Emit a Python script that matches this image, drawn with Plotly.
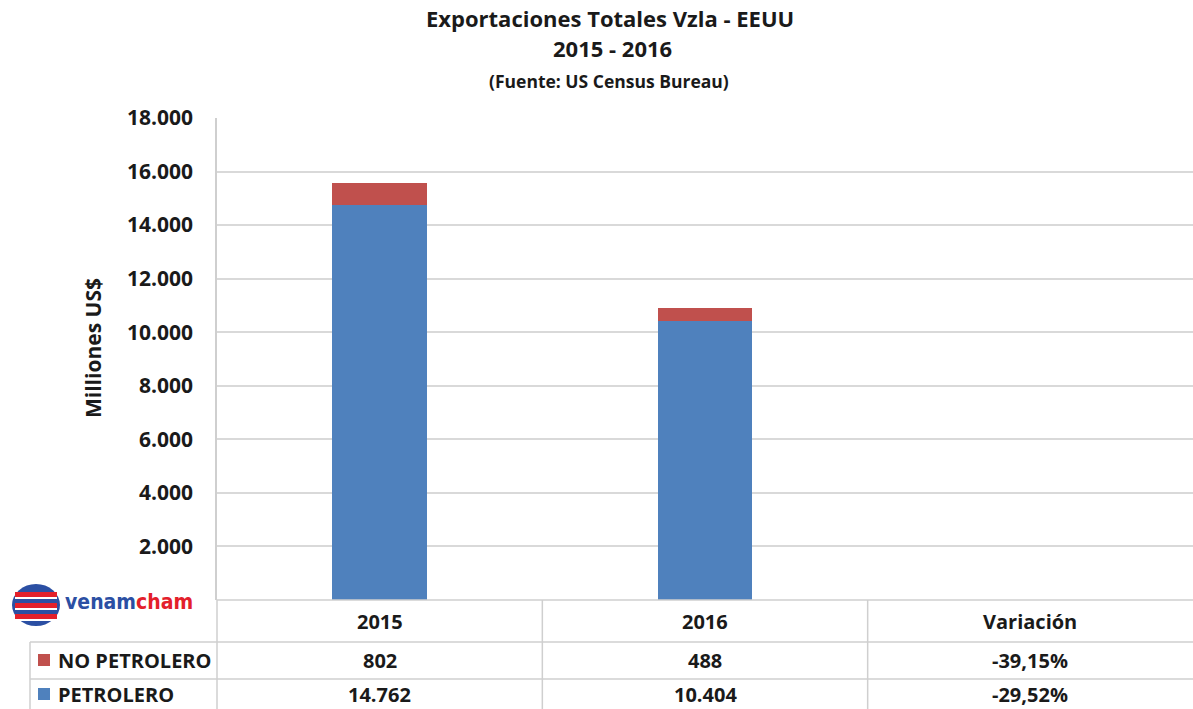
import plotly.graph_objects as go

categories = ["2015", "2016", "Variación"]
years = ["2015", "2016"]
petrolero = [14762, 10404]
no_petrolero = [802, 488]
series_names = ["NO PETROLERO", "PETROLERO"]
ytick_vals = [2000, 4000, 6000, 8000, 10000, 12000, 14000, 16000, 18000]
y_title = "Milliones US$"

BLUE = "#4F81BD"
RED = "#C0504D"
GRID = "#d9d9d9"
FONT = "'Open Sans', Calibri, Lato, sans-serif"

W, H = 1193, 709
L, R, T, B = 217, 0, 118, 109
PW, PH = W - L - R, H - T - B

def px(p):
    return (p - L) / PW
def py(p):
    return (H - B - p) / PH

def fmt_int(v):
    return f"{v:,}".replace(",", ".")

def fmt_pct(a, b):
    return f"{(b / a - 1) * 100:.2f}%".replace(".", ",")

fig = go.Figure()
fig.add_trace(go.Bar(x=years, y=petrolero, name="PETROLERO", marker_color=BLUE,
                     width=0.29, marker_line_width=0, showlegend=False))
fig.add_trace(go.Bar(x=years, y=no_petrolero, name="NO PETROLERO", marker_color=RED,
                     width=0.29, marker_line_width=0, showlegend=False))

fig.update_layout(
    width=W, height=H, barmode="stack", separators=",.",
    paper_bgcolor="white", plot_bgcolor="white",
    margin=dict(l=L, r=R, t=T, b=B, pad=0),
    font=dict(family=FONT, color="#1a1a1a"),
    showlegend=False,
)
fig.update_xaxes(type="category", categoryorder="array", categoryarray=categories,
                 range=[-0.5, 2.5], showticklabels=False, showgrid=False,
                 showline=False, zeroline=False, ticks="")
fig.update_yaxes(range=[0, 18000], tickvals=ytick_vals,
                 ticktext=[f"<b>{fmt_int(v)}</b>" for v in ytick_vals],
                 showgrid=True, gridcolor=GRID, gridwidth=1.5,
                 showline=True, linecolor="#cfcfcf", linewidth=1.5, zeroline=False,
                 tickfont=dict(size=21, family=FONT, color="#1a1a1a"),
                 ticklabelstandoff=18)

ann = []
ann.append(dict(text="<b>Exportaciones Totales Vzla - EEUU</b>", x=px(610), y=py(18), font=dict(size=22)))
ann.append(dict(text="<b>2015 - 2016</b>", x=px(612), y=py(48), font=dict(size=22)))
ann.append(dict(text="<b>(Fuente: US Census Bureau)</b>", x=px(609), y=py(81), font=dict(size=17.5)))
ann.append(dict(text=f"<b>{y_title}</b>", x=px(93), y=py(348), textangle=-90, font=dict(size=21)))
for a in ann:
    a.update(xref="paper", yref="paper")

row_y = [py(621), py(660), py(694)]
for i, c in enumerate(categories):
    ann.append(dict(text=f"<b>{c}</b>", x=i, xref="x", y=row_y[0], yref="paper", font=dict(size=20)))
for i, y in enumerate(years):
    ann.append(dict(text=f"<b>{fmt_int(no_petrolero[i])}</b>", x=i, xref="x", y=row_y[1],
                    yref="paper", font=dict(size=20)))
    ann.append(dict(text=f"<b>{fmt_int(petrolero[i])}</b>", x=i, xref="x", y=row_y[2],
                    yref="paper", font=dict(size=20)))
ann.append(dict(text=f"<b>{fmt_pct(no_petrolero[0], no_petrolero[1])}</b>", x=2, xref="x",
                y=row_y[1], yref="paper", font=dict(size=20)))
ann.append(dict(text=f"<b>{fmt_pct(petrolero[0], petrolero[1])}</b>", x=2, xref="x",
                y=row_y[2], yref="paper", font=dict(size=20)))
for name, y in zip(series_names, row_y[1:]):
    ann.append(dict(text=f"<b>{name}</b>", x=px(56), xref="paper", xanchor="left", y=y, yref="paper",
                    font=dict(size=20)))

ann.append(dict(text="<b><span style='color:#2b4fa3'>venam</span><span style='color:#e3202b'>cham</span></b>",
                x=px(63), xref="paper", xanchor="left", y=py(602), yref="paper",
                font=dict(size=21, family="'DejaVu Sans Condensed', 'Liberation Sans Narrow', sans-serif")))
for a in ann:
    a.setdefault("xanchor", "center")
    a["yanchor"] = "middle"
    a["showarrow"] = False
fig.update_layout(annotations=ann)

shapes = []
LINE = dict(color="#cfcfcf", width=1.5)
for yy in [600, 642, 679]:
    x0 = 217 if yy == 600 else 30
    shapes.append(dict(type="line", xref="paper", yref="paper", x0=px(x0), x1=1, y0=py(yy), y1=py(yy), line=LINE))
shapes.append(dict(type="line", xref="paper", yref="paper", x0=px(217), x1=px(217), y0=py(600), y1=py(709), line=LINE))
shapes.append(dict(type="line", xref="paper", yref="paper", x0=px(30), x1=px(30), y0=py(642), y1=py(709), line=LINE))
for xv in [0.5, 1.5]:
    shapes.append(dict(type="line", xref="x", yref="paper", x0=xv, x1=xv, y0=py(600), y1=py(709), line=LINE))
for col, yc in [(RED, 660), (BLUE, 694)]:
    shapes.append(dict(type="rect", xref="paper", yref="paper", x0=px(38), x1=px(50),
                       y0=py(yc + 6), y1=py(yc - 6), fillcolor=col, line=dict(width=0)))
# logo emblem
shapes.append(dict(type="circle", xref="paper", yref="paper", x0=px(12), x1=px(60), y0=py(626), y1=py(584),
                   fillcolor="#2b4fa3", line=dict(width=0)))
for (a, b) in [(592, 597), (603, 608), (614, 619)]:
    shapes.append(dict(type="rect", xref="paper", yref="paper", x0=px(15), x1=px(57), y0=py(b), y1=py(a),
                       fillcolor="#e3202b", line=dict(width=0)))
    shapes.append(dict(type="rect", xref="paper", yref="paper", x0=px(15), x1=px(57), y0=py(b + 2), y1=py(b),
                       fillcolor="white", line=dict(width=0)))
fig.update_layout(shapes=shapes)

fig.write_html("out.html", config={"displayModeBar": False},
               post_script="document.body.style.margin='0';document.body.style.overflow='hidden';")
